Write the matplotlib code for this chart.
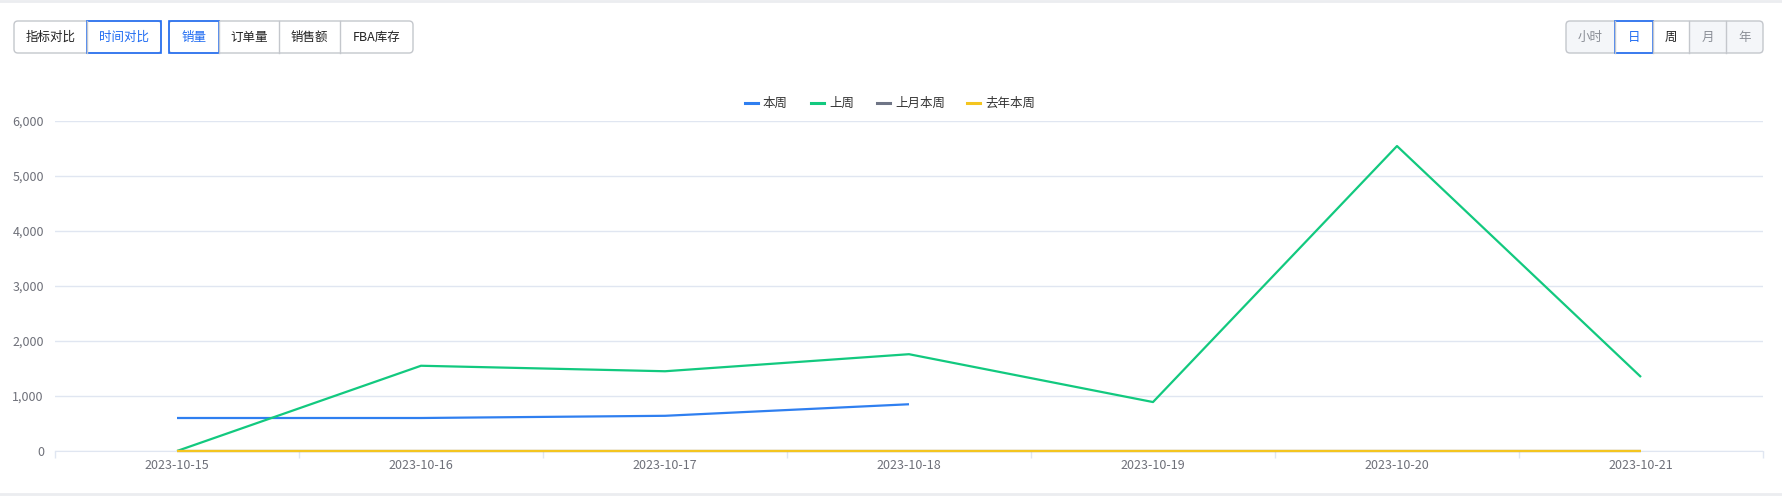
import matplotlib.pyplot as plt
from matplotlib.patches import FancyBboxPatch, Rectangle
from matplotlib.lines import Line2D

plt.rcParams['font.family'] = ['Noto Sans CJK SC', 'DejaVu Sans']

dates = ["2023-10-15", "2023-10-16", "2023-10-17", "2023-10-18",
         "2023-10-19", "2023-10-20", "2023-10-21"]
this_week = [600, 600, 640, 850]
last_week = [0, 1550, 1450, 1760, 890, 5545, 1345]
last_month_week = [0, 0, 0, 0, 0, 0, 0]
last_year_week = [0, 0, 0, 0, 0, 0, 0]
yticks = [0, 1000, 2000, 3000, 4000, 5000, 6000]

series = [
    ("本周", this_week, "#2f7ff0"),
    ("上周", last_week, "#12c97f"),
    ("上月本周", last_month_week, "#6f7586"),
    ("去年本周", last_year_week, "#f4c51f"),
]

W, H = 1783, 496
fig = plt.figure(figsize=(W / 100, H / 100), dpi=100)


def fx(px):
    return px / W


def fy(py):
    return 1 - py / H


ax = fig.add_axes([fx(55), fy(451), fx(1763) - fx(55), fy(121) - fy(451)])
for name, vals, col in series:
    ax.plot(range(len(vals)), vals, color=col, lw=1.6, label=name, zorder=3,
            solid_capstyle="butt", clip_on=False)

ax.set_xlim(-0.5, len(dates) - 0.5)
ax.set_ylim(0, 6000)
ax.set_yticks(yticks)
ax.set_yticklabels([f"{v:,}" for v in yticks])
ax.set_xticks(range(len(dates)))
ax.set_xticklabels(dates)
ax.set_xticks([i - 0.5 for i in range(len(dates) + 1)], minor=True)
ax.tick_params(axis="x", which="major", length=0, pad=6, labelsize=9, labelcolor="#6e7079")
ax.tick_params(axis="x", which="minor", length=5, color="#e0e6f1", width=1)
ax.tick_params(axis="y", length=0, pad=8, labelsize=9, labelcolor="#6e7079")
ax.grid(axis="y", color="#e0e6f1", lw=1)
for s in ["top", "right", "left"]:
    ax.spines[s].set_visible(False)
ax.spines["bottom"].set_color("#e0e6f1")
ax.set_axisbelow(True)

# legend
legend_items = [(745, "本周"), (811, "上周"), (877, "上月本周"), (967, "去年本周")]
for (x0, name), (_, _, col) in zip(legend_items, series):
    fig.add_artist(Line2D([fx(x0), fx(x0 + 13)], [fy(103), fy(103)], color=col, lw=2.2))
    fig.text(fx(x0 + 18), fy(103), name, fontsize=9, color="#333333", va="center", ha="left")

# frame lines
fig.add_artist(Line2D([0, 1], [fy(1), fy(1)], color="#ebedf0", lw=2))
fig.add_artist(Line2D([0, 1], [fy(494), fy(494)], color="#ebedf0", lw=2))


def button_group(x_edges, labels, selected, y0=21, y1=53, disabled=()):
    x0, x1 = x_edges[0], x_edges[-1]
    for i, lab in enumerate(labels):
        if i in disabled:
            fig.add_artist(Rectangle((fx(x_edges[i]), fy(y1)), fx(x_edges[i + 1]) - fx(x_edges[i]),
                                     fy(y0) - fy(y1), facecolor="#f4f6f9", edgecolor="none"))
    fig.add_artist(FancyBboxPatch((fx(x0), fy(y1)), fx(x1) - fx(x0), fy(y0) - fy(y1),
                                  boxstyle="round,pad=0,rounding_size=0.0022",
                                  facecolor="none", edgecolor="#c4c7cc", lw=1,
                                  mutation_aspect=W / H))
    for xe in x_edges[1:-1]:
        fig.add_artist(Line2D([fx(xe), fx(xe)], [fy(y1), fy(y0)], color="#c4c7cc", lw=1))
    for i, lab in enumerate(labels):
        xa, xb = x_edges[i], x_edges[i + 1]
        if i == selected:
            fig.add_artist(Rectangle((fx(xa), fy(y1)), fx(xb) - fx(xa), fy(y0) - fy(y1),
                                     facecolor="none", edgecolor="#1f6bf2", lw=1.2))
            col = "#1f6bf2"
        elif i in disabled:
            col = "#8a8e96"
        else:
            col = "#222222"
        fig.text(fx((xa + xb) / 2), fy((y0 + y1) / 2), lab, fontsize=9, color=col,
                 ha="center", va="center")


button_group([14, 87, 161], ["指标对比", "时间对比"], 1)
button_group([169, 219, 279, 340, 413], ["销量", "订单量", "销售额", "FBA库存"], 0)
button_group([1566, 1615, 1653, 1689, 1726, 1763], ["小时", "日", "周", "月", "年"], 1,
             disabled=(0, 3, 4))

fig.savefig("out.png", dpi=100)
